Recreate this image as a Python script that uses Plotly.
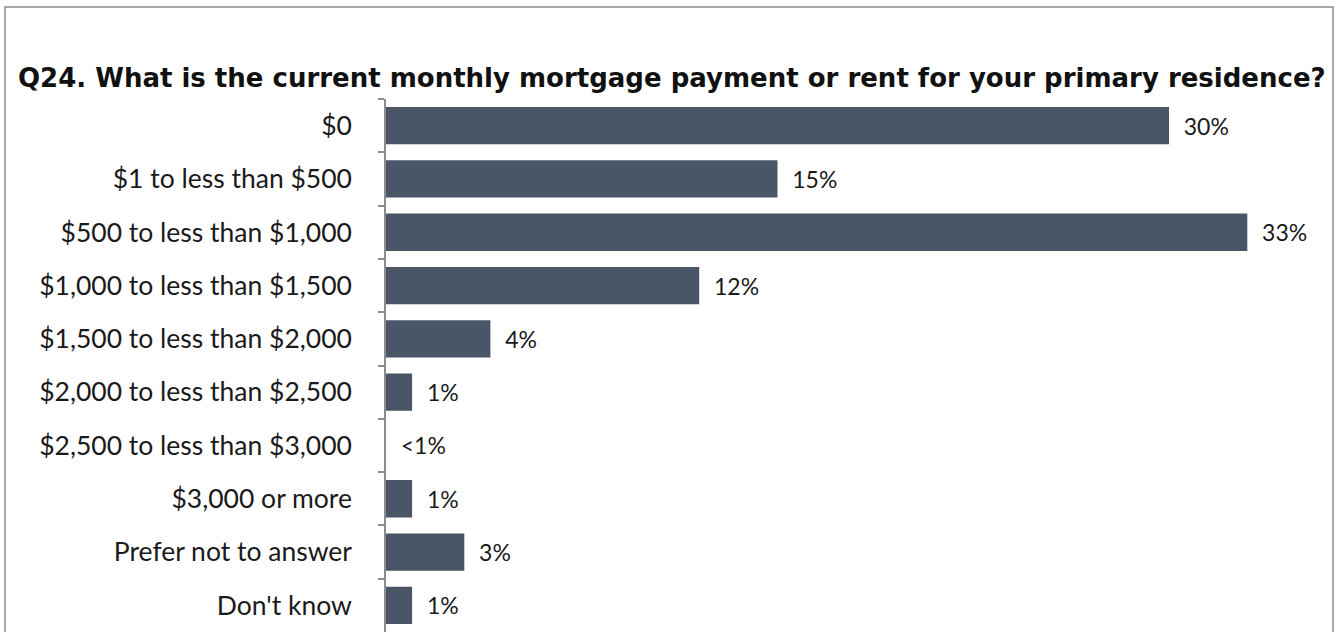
import plotly.graph_objects as go

categories = ["$0", "$1 to less than $500", "$500 to less than $1,000", "$1,000 to less than $1,500",
              "$1,500 to less than $2,000", "$2,000 to less than $2,500", "$2,500 to less than $3,000",
              "$3,000 or more", "Prefer not to answer", "Don't know"]
values = [30, 15, 33, 12, 4, 1, 0, 1, 3, 1]
labels = ["30%", "15%", "33%", "12%", "4%", "1%", "<1%", "1%", "3%", "1%"]

title_text = "Q24. What is the current monthly mortgage payment or rent for your primary residence?"

FONT = "Lato"
fig = go.Figure(go.Bar(
    x=values, y=categories, orientation="h",
    marker=dict(color="#4a5668", line=dict(width=0)),
    text=labels, texttemplate="  %{text}", textposition="outside", cliponaxis=False,
    textfont=dict(family=FONT, size=23, color="#1a1a1a"),
))

L, R, T, B = 386, 6, 99, 0
W, H = 1336, 632
pw, ph = W - L - R, H - T - B

fig.update_layout(
    width=W, height=H,
    margin=dict(l=L, r=R, t=T, b=B, pad=0),
    paper_bgcolor="white", plot_bgcolor="white",
    bargap=0.3, showlegend=False,
    title=dict(text="<b>" + title_text + "</b>", x=18 / W, xanchor="left",
               y=1 - 78 / H, yanchor="middle", xref="container", yref="container",
               font=dict(family="DejaVu Sans", size=26, color="#111111")),
    xaxis=dict(range=[0, pw / 26.1], showgrid=False, zeroline=False, showticklabels=False,
               showline=False, ticks=""),
    yaxis=dict(autorange="reversed", showgrid=False, zeroline=False,
               showline=True, linecolor="#8c8c8c", linewidth=1.5,
               ticks="outside", ticklen=6, tickcolor="#8c8c8c", tickwidth=1.5,
               tickson="boundaries", ticklabelstandoff=27,
               tickfont=dict(family=FONT, size=26.5, color="#1a1a1a")),
)

# outer border
fig.add_shape(type="rect", xref="paper", yref="paper",
              x0=(5 - L) / pw, x1=(1333 - L) / pw,
              y0=(H - 660) / ph, y1=(H - 7) / ph,
              line=dict(color="#8c8c8c", width=1.5), fillcolor="rgba(0,0,0,0)", layer="below")

fig.write_html("out.html", config={"displayModeBar": False},
               post_script="document.body.style.margin='0';document.body.style.overflow='hidden';")
